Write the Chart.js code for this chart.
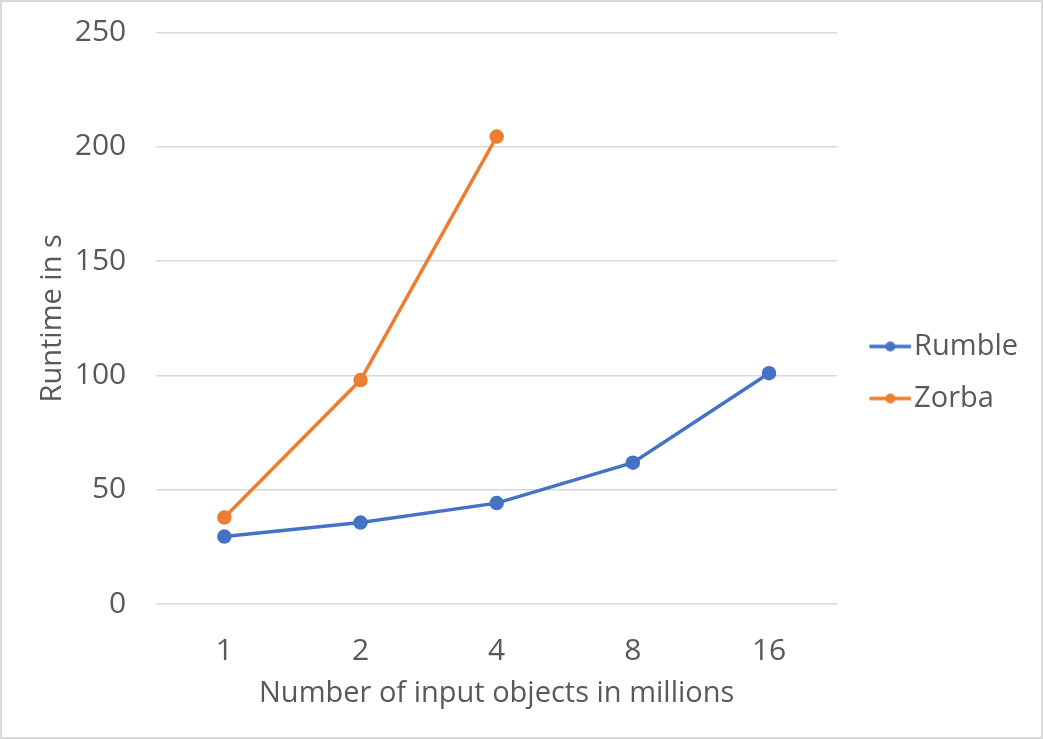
<!DOCTYPE html>
<html>
<head>
<meta charset="utf-8">
<script src="https://cdn.jsdelivr.net/npm/chart.js@4/dist/chart.umd.min.js"></script>
<style>
html,body{margin:0;padding:0;background:#fff;}
#wrap{position:absolute;left:0;top:0;width:1043px;height:739px;box-sizing:border-box;border:2px solid #d9d9d9;background:#fff;}
canvas{position:absolute;left:0;top:0;}
</style>
</head>
<body>
<div id="wrap"></div>
<canvas id="c" width="1043" height="739"></canvas>
<script>
const categories = ["1", "2", "4", "8", "16"];
const rumble = [29.6, 35.7, 44.2, 61.9, 101];
const zorba = [37.9, 98, 204.5, null, null];
const yTicks = [0, 50, 100, 150, 200, 250];

const FONT = "'Open Sans', 'Noto Sans', sans-serif";
const TEXT = "#595959";

function legendMarker(color) {
  const cv = document.createElement('canvas');
  cv.width = 63; cv.height = 14;
  const g = cv.getContext('2d');
  g.strokeStyle = color; g.lineWidth = 3.5;
  g.beginPath(); g.moveTo(21, 7); g.lineTo(63, 7); g.stroke();
  g.fillStyle = color;
  g.beginPath(); g.arc(42, 7, 5, 0, Math.PI * 2); g.fill();
  return cv;
}

new Chart(document.getElementById('c'), {
  type: 'line',
  data: {
    labels: categories,
    datasets: [
      {label: 'Rumble', data: rumble, borderColor: '#4472C4', backgroundColor: '#4472C4',
       borderWidth: 3.5, pointRadius: 5.5, pointHoverRadius: 5.5, pointStyle: 'circle', tension: 0,
       legendMarker: legendMarker('#4472C4')},
      {label: 'Zorba', data: zorba, borderColor: '#ED7D31', backgroundColor: '#ED7D31',
       borderWidth: 3.5, pointRadius: 5.5, pointHoverRadius: 5.5, pointStyle: 'circle', tension: 0,
       legendMarker: legendMarker('#ED7D31')}
    ]
  },
  options: {
    responsive: false,
    animation: false,
    events: [],
    layout: {padding: {left: 35, top: 0, right: 15, bottom: 0}},
    plugins: {
      tooltip: {enabled: false},
      legend: {
        position: 'right',
        title: {display: true, text: '', font: {size: 10}, padding: {top: -6, bottom: 0}},
        labels: {
          usePointStyle: true,
          pointStyleWidth: 39.5,
          color: TEXT,
          font: {family: FONT, size: 29},
          padding: 23,
          generateLabels(chart) {
            return chart.data.datasets.map((ds, i) => ({
              text: ds.label,
              fillStyle: ds.borderColor,
              strokeStyle: ds.borderColor,
              lineWidth: 0,
              pointStyle: ds.legendMarker,
              fontColor: TEXT,
              hidden: false,
              datasetIndex: i
            }));
          }
        }
      }
    },
    scales: {
      x: {
        offset: true,
        grid: {display: false},
        border: {display: false},
        ticks: {color: TEXT, font: {family: FONT, size: 30}, padding: 21},
        title: {display: true, text: 'Number of input objects in millions', color: TEXT,
                font: {family: FONT, size: 29}, padding: {top: -14, bottom: 28}}
      },
      y: {
        min: 0, max: 250,
        afterBuildTicks(axis) { axis.ticks = yTicks.map(v => ({value: v})); },
        afterFit(scale) { scale.paddingTop = 32.5; },
        grid: {color: '#d9d9d9', lineWidth: 1.5, drawTicks: false},
        border: {display: false},
        ticks: {color: TEXT, font: {family: FONT, size: 30}, padding: 30},
        title: {display: true, text: 'Runtime in s', color: TEXT,
                font: {family: FONT, size: 29}, padding: {top: 0, bottom: -25}}
      }
    }
  }
});
</script>
</body>
</html>
